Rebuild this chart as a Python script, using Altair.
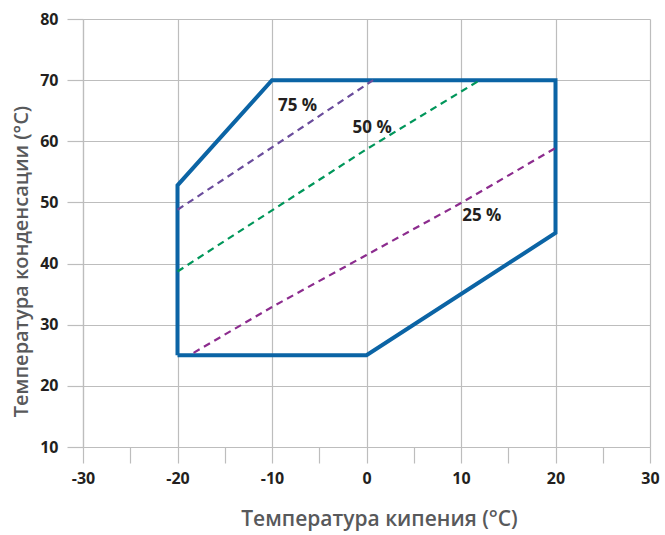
import altair as alt
import pandas as pd

# Operating envelope (closed polygon)
env_x = [-20, -20, -10, 20, 20, 0, -20]
env_y = [25, 52.8, 70, 70, 45, 25, 25]

# Capacity lines
l75_x = [-20, -10, 0.7]
l75_y = [48.8, 59.0, 70]
l50_x = [-20, -10, 0, 12]
l50_y = [38.7, 48.7, 58.7, 70]
l25_x = [-18.3, -10, 0, 10, 20]
l25_y = [25.4, 32.9, 41.4, 49.9, 58.9]

lab_text = ["75 %", "50 %", "25 %"]
lab_x = [-7.3, 0.6, 12.2]
lab_y = [65.8, 62.1, 47.8]

env = pd.DataFrame({"x": env_x, "y": env_y, "o": list(range(len(env_x)))})

def line_df(xs, ys, name):
    return pd.DataFrame({"x": xs, "y": ys, "o": list(range(len(xs))), "s": name})

lines = pd.concat([line_df(l75_x, l75_y, "75"), line_df(l50_x, l50_y, "50"),
                   line_df(l25_x, l25_y, "25")])
labels = pd.DataFrame({"t": lab_text, "x": lab_x, "y": lab_y})

FONT = "Open Sans"
grid_cond = {"condition": {"test": "datum.value % 10 === 0", "value": 1}, "value": 0}
label_expr = "datum.value % 10 === 0 ? '' + datum.value : ''"

xsc = alt.Scale(domain=[-30, 30], nice=False, zero=False)
ysc = alt.Scale(domain=[10, 80], nice=False, zero=False)

xaxis = alt.Axis(values=list(range(-30, 31, 5)), labelExpr=label_expr,
                 title="Температура кипения (°C)", gridOpacity=grid_cond,
                 labelFont=FONT, labelFontWeight="bold", labelFontSize=16,
                 labelColor="#231f20", labelPadding=7, tickSize=16,
                 titleFont=FONT, titleFontSize=21, titleFontWeight=600,
                 titleColor="#58595b", titlePadding=22, titleX=296,
                 labelFlush=False)
yaxis = alt.Axis(values=list(range(10, 81, 5)), labelExpr=label_expr,
                 title="Температура конденсации (°C)", gridOpacity=grid_cond,
                 labelFont=FONT, labelFontWeight="bold", labelFontSize=16,
                 labelColor="#231f20", labelPadding=9, tickSize=16,
                 titleFont=FONT, titleFontSize=20, titleFontWeight=600,
                 titleColor="#58595b", titlePadding=8, titleY=242,
                 labelFlush=False)

base_x = alt.X("x:Q", scale=xsc, axis=xaxis)
base_y = alt.Y("y:Q", scale=ysc, axis=yaxis)

env_layer = alt.Chart(env).mark_line(color="#0b64a5", strokeWidth=4,
                                     strokeJoin="miter").encode(
    x=base_x, y=base_y, order="o:Q")

line_layer = alt.Chart(lines).mark_line(strokeWidth=2.2, strokeDash=[7, 5]).encode(
    x="x:Q", y="y:Q", order="o:Q", detail="s:N",
    color=alt.Color("s:N", scale=alt.Scale(domain=["75", "50", "25"],
                    range=["#6a4c9c", "#00965a", "#8c2c8e"]), legend=None))

text_layer = alt.Chart(labels).mark_text(font=FONT, fontWeight="bold",
                                          fontSize=17, color="#231f20").encode(
    x="x:Q", y="y:Q", text="t:N")

chart = alt.layer(env_layer, line_layer, text_layer).properties(
    width=567, height=428,
    autosize=alt.AutoSizeParams(type="none"),
    padding={"left": 83, "top": 19, "right": 15, "bottom": 88},
).configure_axis(
    gridColor="#bdbdbd", gridWidth=1.2, domainColor="#bdbdbd", domainWidth=1.2,
    tickColor="#bdbdbd", tickWidth=1.2,
).configure_view(stroke=None)

chart.save("out.html", embed_options={"renderer": "svg", "actions": False})
